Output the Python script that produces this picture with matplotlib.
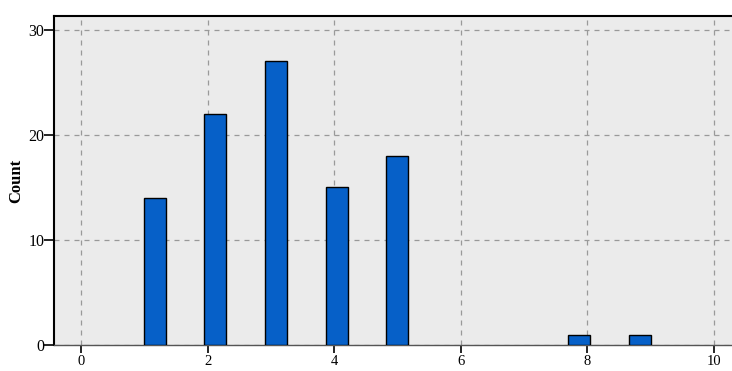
import matplotlib
matplotlib.use('Agg')
from matplotlib import pyplot as plt

# values
bar_pos = [1.17, 2.12, 3.08, 4.04, 5.0, 7.87, 8.83]
counts = [14, 22, 27, 15, 18, 1, 1]
x_ticks = [0, 2, 4, 6, 8, 10]
y_ticks = [0, 10, 20, 30]

plt.rcParams['font.family'] = ['Liberation Serif', 'DejaVu Serif']

fig = plt.figure(figsize=(7.32, 3.71), dpi=100)
ax = fig.add_axes([0.0738, 0.070, 0.94, 0.887])
ax.set_facecolor('#ebebeb')

ax.bar(bar_pos, counts, width=0.35, color='#0660c8', edgecolor='black', linewidth=1.0, zorder=3)

ax.set_xlim(-0.43, 10.45)
ax.set_ylim(0, 31.3)
ax.set_xticks(x_ticks)
ax.set_yticks(y_ticks)
ax.grid(True, linestyle=(0, (4, 4)), color='#999999', linewidth=0.9, zorder=0)
ax.tick_params(axis='both', direction='out', length=7, width=1.2, labelsize=11.5, colors='black')
ax.tick_params(axis='y', pad=0)
ax.tick_params(axis='x', length=6, pad=1, labelsize=10.5)

for s in ['left', 'top']:
    ax.spines[s].set_linewidth(1.5)
    ax.spines[s].set_color('black')
ax.spines['bottom'].set_color('#555555')
ax.spines['bottom'].set_linewidth(1.0)
ax.spines['right'].set_visible(False)

ax.set_ylabel('Count', fontweight='bold', fontsize=12, labelpad=3)

plt.savefig('out.png', dpi=100)
